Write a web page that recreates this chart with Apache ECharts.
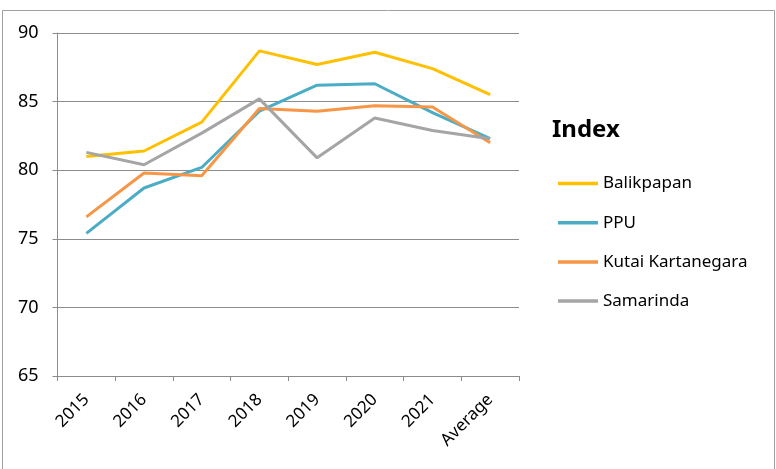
<!DOCTYPE html>
<html>
<head>
<meta charset="utf-8">
<script src="https://cdn.jsdelivr.net/npm/echarts@6/dist/echarts.min.js"></script>
<style>html,body{margin:0;padding:0;background:#fff}#c{width:776px;height:469px}</style>
</head>
<body>
<div id="c"></div>
<script>
const categories = ['2015','2016','2017','2018','2019','2020','2021','Average'];
const balikpapan = [81.0, 81.4, 83.5, 88.7, 87.7, 88.6, 87.4, 85.5];
const ppu = [75.4, 78.7, 80.2, 84.3, 86.2, 86.3, 84.2, 82.3];
const kutai = [76.6, 79.8, 79.6, 84.5, 84.3, 84.7, 84.6, 82.0];
const samarinda = [81.3, 80.4, 82.7, 85.2, 80.9, 83.8, 82.9, 82.3];
const seriesNames = ['Balikpapan','PPU','Kutai Kartanegara','Samarinda'];
const colors = ['#FFC000','#4BACC6','#F79646','#A5A5A5'];
const yTicks = {min: 65, max: 90, interval: 5};

const font = 'Noto Sans';
const chart = echarts.init(document.getElementById('c'));
const mk = (name, data, color) => ({
  name, type: 'line', data, symbol: 'none',
  lineStyle: {color, width: 3}, itemStyle: {color}
});
chart.setOption({
  animation: false,
  textStyle: {fontFamily: font},
  graphic: [{
    type: 'rect', shape: {x: 2.5, y: 10.5, width: 772, height: 470},
    style: {fill: 'none', stroke: '#a0a0a0', lineWidth: 1}, silent: true
  }],
  title: {
    text: 'Index', left: 547, top: 113,
    textStyle: {fontFamily: font, fontSize: 24, fontWeight: 'bold', color: '#000'}
  },
  legend: {
    orient: 'vertical', left: 553, top: 170,
    icon: 'rect', itemWidth: 40, itemHeight: 3.5, itemGap: 22.2,
    textStyle: {fontFamily: font, fontSize: 17, color: '#000'},
    data: seriesNames
  },
  grid: {left: 57.5, right: 257, top: 33, bottom: 93},
  xAxis: {
    type: 'category', data: categories, boundaryGap: true,
    axisLine: {lineStyle: {color: '#8c8c8c', width: 1}},
    axisTick: {show: true, length: 5, lineStyle: {color: '#8c8c8c'}},
    axisLabel: {rotate: 45, margin: 21, fontSize: 17, color: '#000', fontFamily: font, interval: 0}
  },
  yAxis: {
    type: 'value', min: yTicks.min, max: yTicks.max, interval: yTicks.interval,
    axisLine: {show: true, lineStyle: {color: '#8c8c8c', width: 1}},
    axisTick: {show: true, length: 5, lineStyle: {color: '#8c8c8c'}},
    axisLabel: {margin: 19, fontSize: 18, color: '#000', fontFamily: font},
    splitLine: {lineStyle: {color: '#8c8c8c', width: 1}}
  },
  series: [
    mk(seriesNames[0], balikpapan, colors[0]),
    mk(seriesNames[1], ppu, colors[1]),
    mk(seriesNames[2], kutai, colors[2]),
    mk(seriesNames[3], samarinda, colors[3])
  ]
});
</script>
</body>
</html>
